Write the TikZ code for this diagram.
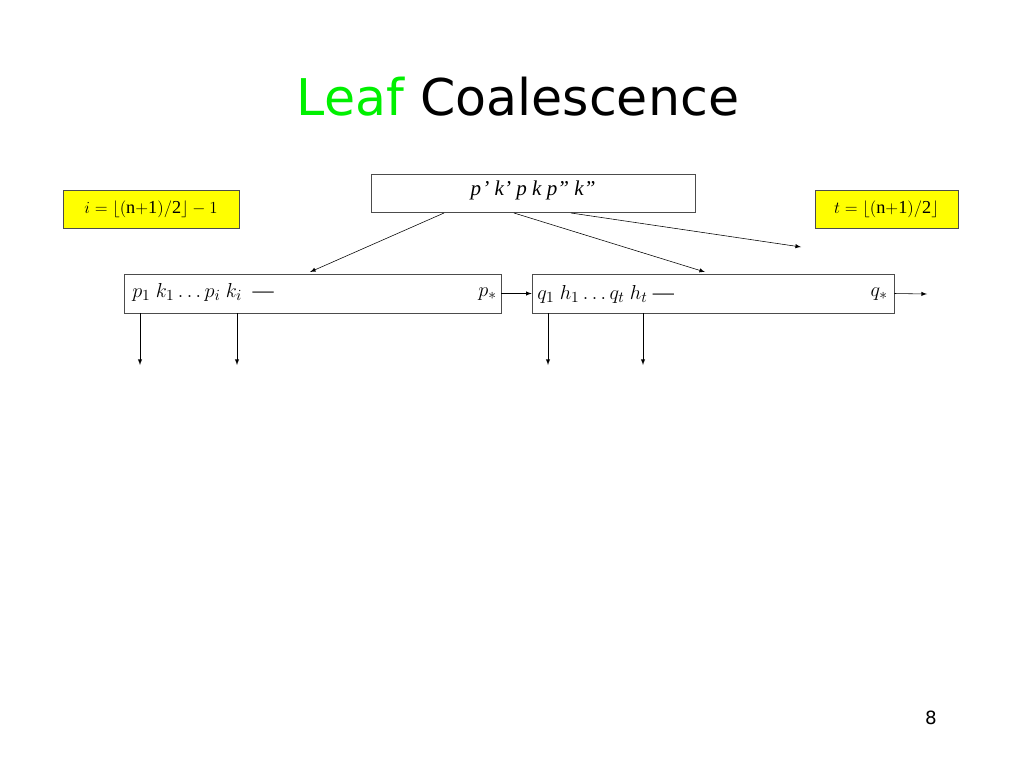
\documentclass[tikz,border=0pt]{standalone}
\usepackage{fontspec}
\setmainfont{Liberation Serif}
\newfontfamily\titlefont{DejaVu Sans}
\usepackage{xcolor}
\usetikzlibrary{arrows, positioning, calc}
\definecolor{leafgreen}{RGB}{0,240,0}
\definecolor{noteyellow}{RGB}{255,255,0}

\begin{document}
\begin{tikzpicture}[
    x=0.025cm, y=-0.025cm,
    box/.style={
        rectangle,
        draw=black!70,
        inner sep=0pt
    },
    note/.style={
        rectangle,
        draw=black!70,
        fill=noteyellow,
        inner sep=0pt
    },
    arrow/.style={
        ->,
        >=latex,
        thin
    },
    entry/.style={
        font=\fontsize{15}{18}\selectfont,
        inner sep=0pt
    }
]
\useasboundingbox (0,0) rectangle (1024,768);

% Title
\node[font=\titlefont\fontsize{36}{40}\selectfont] (title) at (518,97)
    {\textcolor{leafgreen}{Leaf} Coalescence};

% Parent node and notes
\node[box, minimum width=324*0.025cm, minimum height=38*0.025cm] (parent) at (533,193) {};
\node[entry] (ptext) at (533,190) {\textit{p\kern1pt' k' p k p'' k''}};
\node[note, minimum width=176*0.025cm, minimum height=38*0.025cm, font=\fontsize{13}{15}\selectfont] (inote) at (151,209)
    {$i=\lfloor\mathrm{(n{+}1)/2}\rfloor-1$};
\node[note, minimum width=143*0.025cm, minimum height=38*0.025cm, font=\fontsize{13}{15}\selectfont] (tnote) at (886.5,209)
    {$t=\lfloor\mathrm{(n{+}1)/2}\rfloor$};

% Leaves
\node[box, minimum width=377*0.025cm, minimum height=39*0.025cm] (leftleaf) at (312.5,293.5) {};
\node[box, minimum width=362*0.025cm, minimum height=39*0.025cm] (rightleaf) at (713,293.5) {};
\node[entry, anchor=west] (lkeys) at (132,292) {$p_1\ k_1 \ldots p_i\ k_i$\ \ ---};
\node[entry, anchor=east] (lstar) at (497,294) {$p_*$};
\node[entry, anchor=west] (rkeys) at (537,294) {$q_1\ h_1 \ldots q_t\ h_t$ ---};
\node[entry, anchor=east] (rstar) at (888,294) {$q_*$};

% Pointers
\coordinate (pa) at (444,213);
\coordinate (pb) at (514,213);
\coordinate (pc) at (571,213);
\coordinate (next) at (801,247);
\coordinate (out) at (927,294);
\draw[arrow] (pa) -- (310,272);
\draw[arrow] (pb) -- (705,272);
\draw[arrow] (pc) -- (next);
\draw[arrow] (leftleaf.east) -- (rightleaf.west);
\draw[arrow] (rightleaf.east) -- (out);
\foreach \x in {140,237,548,643}
    \draw[arrow] (\x,313) -- (\x,365);

\node[font=\titlefont\fontsize{13}{15}\selectfont] (pagenum) at (931,718) {8};
\end{tikzpicture}
\end{document}
